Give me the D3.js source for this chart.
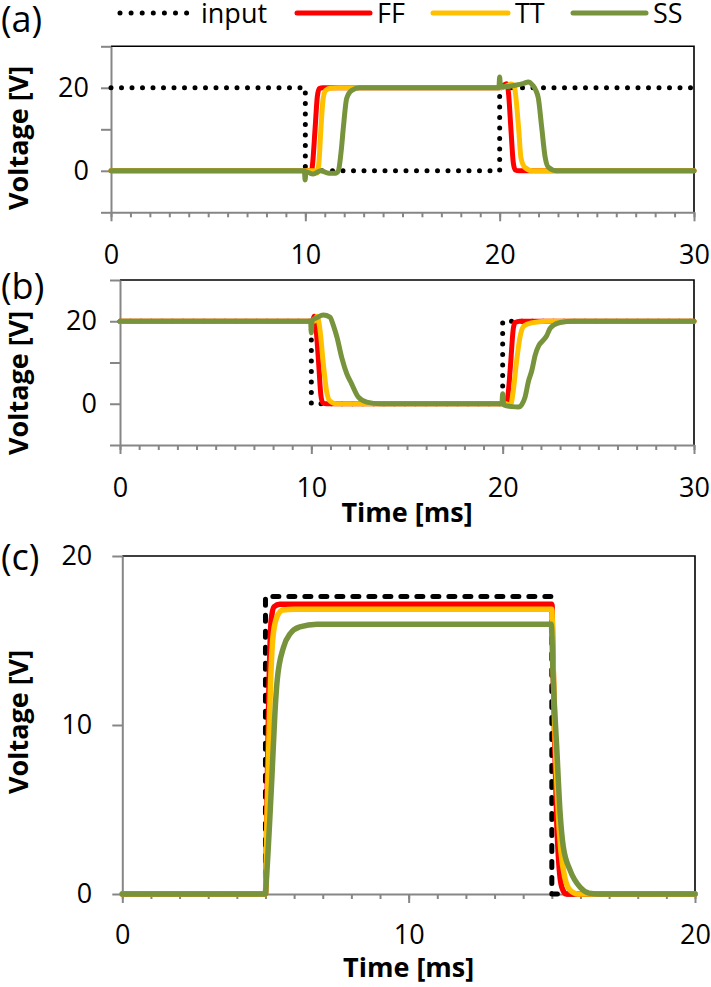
<!DOCTYPE html>
<html><head><meta charset="utf-8">
<script src="https://cdn.jsdelivr.net/npm/d3@7"></script>
<style>
html,body{margin:0;padding:0;background:#fff;}
svg{display:block;font-family:"Open Sans",sans-serif;}
</style></head>
<body>
<svg id="chart" width="711" height="987"></svg>
<script>
// ---------- data ----------
const seriesNames = ["input", "FF", "TT", "SS"];
const seriesColors = ["#000000", "#FF0000", "#FFC000", "#77933C"];

// panel (a): [time ms, voltage V]
const aInput = [[0,20],[10,20],[10,0],[20,0],[20,20],[30,20]];
const aFF = [[0,0],[10.2,0],[10.3,-0.6],[10.38,2],[10.5,10],[10.62,18],[10.72,19.8],[10.9,20],[20.0,20],[20.2,20.6],[20.35,21.0],[20.45,19],[20.58,10],[20.7,2],[20.8,0.2],[21.0,0],[30,0]];
const aTT = [[0,0],[10.5,0],[10.62,-0.5],[10.7,2],[10.8,10],[10.92,17.5],[11.05,19.4],[11.3,19.9],[11.7,20],[20,20],[20.3,20.3],[20.6,20.9],[20.75,20.5],[20.85,17],[20.98,10],[21.1,3],[21.3,0.8],[21.7,0],[30,0]];
const aSS = [[0,0],[9.95,0],[9.99,-2.2],[10.03,-0.2],[10.4,-0.8],[10.8,0],[11.2,-0.6],[11.55,-0.6],[11.7,0],[11.85,5],[11.96,10.6],[12.13,17.5],[12.39,19.4],[12.8,20],[19.96,20],[20.0,22.6],[20.04,20.2],[20.4,20.3],[20.8,20.6],[21.2,21.0],[21.48,21.4],[21.7,20.6],[21.85,19.5],[21.99,17.5],[22.16,10.6],[22.34,3.3],[22.5,0.9],[22.94,0],[30,0]];

// panel (b)
const bInput = [[0,20],[10,20],[10,0],[20,0],[20,20],[30,20]];
const bFF = [[0,20],[10.05,20],[10.15,21.2],[10.25,18],[10.38,10],[10.5,2],[10.6,0.2],[10.8,0],[20.1,0],[20.2,-0.3],[20.3,3],[20.42,10],[20.55,18],[20.65,19.7],[20.9,20],[30,20]];
const bTT = [[0,20],[10.15,20],[10.3,21.2],[10.45,18],[10.62,10],[10.8,3],[10.95,0.8],[11.3,0],[20.2,0],[20.4,-0.5],[20.55,3],[20.72,10],[20.9,16],[21.1,18.8],[21.5,19.6],[22.3,20],[30,20]];
const bSS = [[0,20],[9.96,20],[10.0,17.2],[10.04,20.2],[10.3,20.9],[10.63,21.5],[10.97,21],[11.15,19],[11.33,16.3],[11.6,11],[11.85,7.3],[12.1,4.9],[12.46,1.6],[12.9,0.4],[13.6,0],[19.96,0],[20.0,2.45],[20.06,-0.3],[20.5,-0.7],[20.82,-0.8],[21.0,-0.2],[21.17,1.6],[21.35,5.5],[21.52,8],[21.7,11.8],[21.9,14.2],[22.1,15.3],[22.3,16.5],[22.47,18.2],[22.65,19],[23.0,19.7],[23.7,20],[30,20]];

// panel (c)
const cInput = [[0,0],[5,0],[5,17.6],[15,17.6],[15,0],[20,0]];
const cFF = [[0,0],[5.0,0],[5.05,5],[5.12,12],[5.2,16.2],[5.3,17.0],[5.5,17.15],[15.0,17.15],[15.03,15],[15.1,9],[15.18,4],[15.26,1.5],[15.35,0.4],[15.5,0],[20,0]];
const cTT = [[0,0],[5.0,0],[5.06,5],[5.15,11],[5.25,15],[5.38,16.3],[5.6,16.8],[6.0,16.85],[15.0,16.85],[15.04,14],[15.12,9],[15.22,5],[15.32,2.5],[15.45,1],[15.65,0.2],[15.9,0],[20,0]];
const cSS = [[0,0],[5.0,0],[5.02,0.5],[5.22,6.75],[5.33,10.7],[5.41,12.66],[5.63,14.6],[5.86,15.4],[6.2,15.8],[6.8,15.96],[14.98,15.96],[15.05,12.66],[15.17,8.7],[15.29,4.77],[15.4,2.8],[15.64,1.4],[15.99,0.4],[16.3,0.05],[16.6,0],[20,0]];

// axis ticks / labels
const abYTicks = [-10, 0, 10, 20, 30];
const abYLabels = [0, 20];
const abXMajor = [0, 10, 20, 30];
const cYTicks = [0, 10, 20];
const cXMajor = [0, 10, 20];
const yTitle = "Voltage [V]";
const xTitle = "Time [ms]";

// ---------- drawing ----------
const svg = d3.select("#chart");
const GRAY = "#868686";
const FONT = 27;

function drawPanel(cfg) {
  const x = d3.scaleLinear().domain(cfg.xDomain).range(cfg.xRange);
  const y = d3.scaleLinear().domain(cfg.yDomain).range(cfg.yRange);
  const g = svg.append("g");
  const x0 = cfg.xRange[0], x1 = cfg.xRange[1], yb = cfg.yRange[0], yt = cfg.yRange[1];

  // top & right border
  g.append("path")
    .attr("d", `M${x0},${yt}H${x1}V${yb}`)
    .attr("fill", "none").attr("stroke", "#000").attr("stroke-width", 1.6);

  // minor x ticks
  const minor = g.append("g").attr("transform", `translate(0,${yb})`)
    .call(d3.axisBottom(x).tickValues(d3.range(cfg.xDomain[0], cfg.xDomain[1] + 0.5, 1)).tickSize(5).tickSizeOuter(0).tickFormat(""));
  // major x ticks and labels
  const major = g.append("g").attr("transform", `translate(0,${yb})`)
    .call(d3.axisBottom(x).tickValues(cfg.xMajor).tickSize(9).tickSizeOuter(0).tickPadding(cfg.xPad).tickFormat(d3.format("d")));
  major.select(".domain").remove();
  // y axis
  const yax = g.append("g").attr("transform", `translate(${x0},0)`)
    .call(d3.axisLeft(y).tickValues(cfg.yTicks).tickSize(10).tickSizeOuter(0).tickPadding(cfg.yPad)
      .tickFormat(d => cfg.yLabels.includes(d) ? d3.format("d")(d) : ""));

  [minor, major, yax].forEach(a => {
    a.selectAll("path,line").attr("stroke", GRAY).attr("stroke-width", 2);
    a.selectAll("text").attr("fill", "#000").attr("font-size", FONT).attr("font-family", "Open Sans");
  });

  // lines
  const lineInput = d3.line().x(d => x(d[0])).y(d => y(d[1])).curve(d3.curveLinear);
  const lineOut = d3.line().x(d => x(d[0])).y(d => y(d[1])).curve(d3.curveMonotoneX);
  g.append("path").datum(cfg.series[0]).attr("d", lineInput)
    .attr("fill", "none").attr("stroke", seriesColors[0])
    .attr("stroke-width", cfg.inputWidth).attr("stroke-dasharray", cfg.inputDash)
    .attr("stroke-linecap", "round").attr("stroke-linejoin", "round");
  for (let i = 1; i < 4; i++) {
    g.append("path").datum(cfg.series[i]).attr("d", lineOut)
      .attr("fill", "none").attr("stroke", seriesColors[i])
      .attr("stroke-width", cfg.lineWidth).attr("stroke-linejoin", "round").attr("stroke-linecap", "round");
  }

  // y title
  svg.append("text")
    .attr("transform", `translate(28,${cfg.yTitleCy}) rotate(-90)`)
    .attr("text-anchor", "middle").attr("font-weight", "bold").attr("font-size", FONT)
    .text(yTitle);
  if (cfg.xTitleY) {
    svg.append("text").attr("x", (x0 + x1) / 2).attr("y", cfg.xTitleY)
      .attr("text-anchor", "middle").attr("font-weight", "bold").attr("font-size", FONT)
      .text(xTitle);
  }
  // panel letter
  svg.append("text").attr("x", 1).attr("y", cfg.letterY)
    .attr("font-size", 36).text(cfg.letter);
}

drawPanel({
  xDomain: [0, 30], xRange: [111, 694], yDomain: [-10, 30], yRange: [212.3, 46.3],
  yTicks: abYTicks, yLabels: abYLabels, xMajor: abXMajor, yPad: 12, xPad: 24,
  series: [aInput, aFF, aTT, aSS], lineWidth: 5, inputWidth: 5, inputDash: "0 10.5",
  yTitleCy: 138, xTitleY: null, letter: "(a)", letterY: 32
});
drawPanel({
  xDomain: [0, 30], xRange: [120, 694], yDomain: [-10, 30], yRange: [445, 280],
  yTicks: abYTicks, yLabels: abYLabels, xMajor: abXMajor, yPad: 13, xPad: 24,
  series: [bInput, bFF, bTT, bSS], lineWidth: 5, inputWidth: 5, inputDash: "0 10.5",
  yTitleCy: 383, xTitleY: 522, letter: "(b)", letterY: 299
});
drawPanel({
  xDomain: [0, 20], xRange: [122.3, 695], yDomain: [0, 20], yRange: [894, 556],
  yTicks: cYTicks, yLabels: cYTicks, xMajor: cXMajor, yPad: 20, xPad: 22,
  series: [cInput, cFF, cTT, cSS], lineWidth: 5.5, inputWidth: 5, inputDash: "6 10",
  yTitleCy: 722, xTitleY: 977, letter: "(c)", letterY: 570
});

// legend
const legendX = [120, 297, 433, 573];
const legendW = [67, 73, 75, 73];
const legend = svg.append("g");
seriesNames.forEach((name, i) => {
  const lg = legend.append("g");
  lg.append("line").attr("x1", legendX[i]).attr("x2", legendX[i] + legendW[i])
    .attr("y1", 13).attr("y2", 13)
    .attr("stroke", seriesColors[i]).attr("stroke-width", 5)
    .attr("stroke-linecap", "round")
    .attr("stroke-dasharray", i === 0 ? "0 11.1" : null);
  lg.append("text").attr("x", legendX[i] + legendW[i] + (i === 0 ? 14 : 7)).attr("y", 23)
    .attr("font-size", FONT).text(name);
});
</script>
</body></html>
